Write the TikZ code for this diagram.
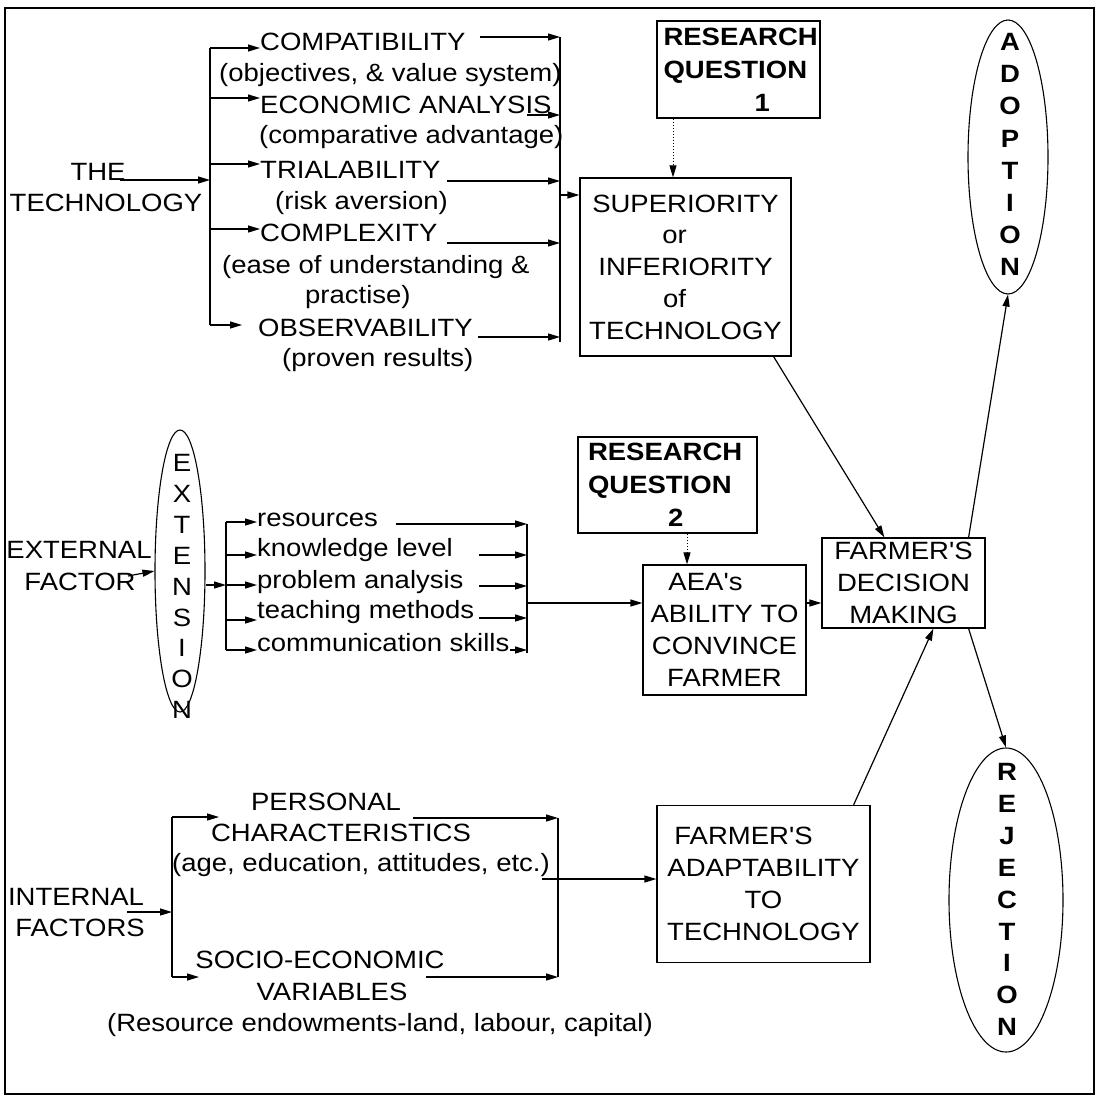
\documentclass[tikz,border=0pt]{standalone}
\usepackage{fontspec}
\setmainfont{Liberation Sans}[Ligatures=TeXOff,FakeStretch=1.1]
\usetikzlibrary{arrows.meta,shapes.geometric,calc}
\begin{document}
\begin{tikzpicture}[x=1pt,y=-1pt,
  every node/.style={font=\fontsize{25}{31.8}\selectfont},
  txt/.style={inner sep=0pt},
  lt/.style={inner sep=0pt,anchor=west},
  box/.style={draw,line width=1.2pt,inner sep=0pt,align=center},
  rq/.style={draw,line width=1.2pt,inner ysep=0pt,align=left,font=\bfseries\fontsize{25}{33}\selectfont},
  oval/.style={draw,ellipse,line width=1.1pt,inner sep=0pt},
  vlet/.style={inner sep=0pt,align=center},
  ln/.style={line width=1.2pt},
  arr/.style={line width=1.2pt,-{Triangle[length=12pt,width=7pt]}},
  dotarr/.style={line width=1pt,dotted,-{Triangle[length=12pt,width=7pt]}}
]
\fill[white] (0,0) rectangle (1097,1100);
\useasboundingbox (0,0) rectangle (1097,1100);
\draw[line width=1.3pt] (5,8) rectangle (1094,1094);

% ---------- top section ----------
\node[txt] (the) at (98,172) {THE};
\node[txt] (tech) at (106,203) {TECHNOLOGY};
\node[lt] (compat) at (260,42) {COMPATIBILITY};
\node[lt] (compatd) at (219,75) {(objectives, \& value system)};
\node[lt] (econ) at (260,105) {ECONOMIC ANALYSIS};
\node[lt] (econd) at (259,137) {(comparative advantage)};
\node[lt] (trial) at (260,170) {TRIALABILITY};
\node[lt] (triald) at (275,203) {(risk aversion)};
\node[lt] (cplx) at (260,233) {COMPLEXITY};
\node[lt] (cplxd) at (222,267) {(ease of understanding \&};
\node[lt] (cplxe) at (305,297) {practise)};
\node[lt] (obs) at (258,328) {OBSERVABILITY};
\node[lt] (obsd) at (282,360) {(proven results)};

\coordinate (theA) at (120,180);
\coordinate (b1) at (210,180);
\coordinate (b1t) at (210,48);
\coordinate (b1e) at (210,98);
\coordinate (b1r) at (210,164);
\coordinate (b1c) at (210,229);
\coordinate (b1b) at (210,325);
\coordinate (obsA) at (242,325);
\draw[ln] (b1t) -- (b1b);
\draw[arr] (theA) -- (b1);
\draw[arr] (b1t) -- (compat.west |- b1t);
\draw[arr] (b1e) -- (econ.west |- b1e);
\draw[arr] (b1r) -- (trial.west |- b1r);
\draw[arr] (b1c) -- (cplx.west |- b1c);
\draw[arr] (b1b) -- (obsA);

\coordinate (r1a0) at (480,37);  \coordinate (r1a) at (560,37);
\coordinate (r1e0) at (527,115); \coordinate (r1e) at (560,115);
\coordinate (r1r0) at (447,181); \coordinate (r1r) at (560,181);
\coordinate (r1c0) at (447,243); \coordinate (r1c) at (560,243);
\coordinate (r1o0) at (478,337); \coordinate (r1o) at (560,337);
\coordinate (r1bot) at (560,342);
\coordinate (r1m) at (560,195);
\draw[ln] (r1a) -- (r1bot);
\draw[arr] (r1a0) -- (r1a);
\draw[arr] (r1e0) -- (r1e);
\draw[arr] (r1r0) -- (r1r);
\draw[arr] (r1c0) -- (r1c);
\draw[arr] (r1o0) -- (r1o);

\node[box,minimum width=211pt,minimum height=178pt] (sup) at (685.5,267)
  {SUPERIORITY\\or\kern22pt\\INFERIORITY\\of\kern22pt\\TECHNOLOGY};
\draw[arr] (r1m) -- (sup.west |- r1m);

\node[rq,minimum width=163pt,minimum height=97pt,text width=150pt,inner xsep=6.5pt] (rq1) at (738.5,69.5)
  {RESEARCH\\QUESTION\\\hspace*{91pt}1};
\coordinate (q1) at (673,0);
\draw[dotarr] (rq1.south -| q1) -- (sup.north -| q1);

\node[oval,minimum width=80pt,minimum height=274pt] (ado) at (1008,157) {};
\node[vlet,font=\bfseries\fontsize{25}{32.1}\selectfont] (adot) at (1010,154.5)
  {A\\D\\O\\P\\T\\I\\O\\N};

% ---------- middle section ----------
\node[txt] (extl1) at (79,550) {EXTERNAL};
\node[txt] (extl2) at (80,582) {FACTOR};
\node[oval,minimum width=50pt,minimum height=282pt] (ext) at (180,571) {};
\node[vlet,font=\fontsize{25}{30.9}\selectfont] (extt) at (182,586.5)
  {E\\X\\T\\E\\N\\S\\I\\O\\N};
\coordinate (efa) at (128,576);
\draw[arr] (efa) -- (ext.west);

\node[lt] (res) at (257,520) {resources};
\node[lt] (know) at (257,550) {knowledge level};
\node[lt] (prob) at (257,582) {problem analysis};
\node[lt] (teach) at (257,612) {teaching methods};
\node[lt] (comm) at (257,643) {communication skills};

\coordinate (b2m) at (226,585);
\coordinate (b2a) at (226,522);
\coordinate (b2b) at (226,555);
\coordinate (b2c) at (226,585);
\coordinate (b2d) at (226,620);
\coordinate (b2e) at (226,650);
\draw[arr] (ext.east |- b2m) -- (b2m);
\draw[ln] (b2a) -- (b2e);
\draw[arr] (b2a) -- (res.west |- b2a);
\draw[arr] (b2b) -- (know.west |- b2b);
\draw[arr] (b2c) -- (prob.west |- b2c);
\draw[arr] (b2d) -- (teach.west |- b2d);
\draw[arr] (b2e) -- (comm.west |- b2e);

\coordinate (r2a0) at (396,524); \coordinate (r2a) at (527,524);
\coordinate (r2b0) at (479,555); \coordinate (r2b) at (527,555);
\coordinate (r2c0) at (479,586); \coordinate (r2c) at (527,586);
\coordinate (r2d0) at (479,618); \coordinate (r2d) at (527,618);
\coordinate (r2e0) at (510,650); \coordinate (r2e) at (527,650);
\coordinate (r2bot) at (527,653);
\coordinate (r2m) at (527,603);
\draw[ln] (r2a) -- (r2bot);
\draw[arr] (r2a0) -- (r2a);
\draw[arr] (r2b0) -- (r2b);
\draw[arr] (r2c0) -- (r2c);
\draw[arr] (r2d0) -- (r2d);
\draw[arr] (r2e0) -- (r2e);

\node[rq,minimum width=179pt,minimum height=96pt,text width=159pt,inner xsep=10pt] (rq2) at (667.5,485)
  {RESEARCH\\QUESTION\\\hspace*{80pt}2};
\node[box,minimum width=163pt,minimum height=130pt] (aea) at (724.5,630)
  {AEA's\kern38pt\\ABILITY TO\\CONVINCE\\FARMER};
\node[box,minimum width=163pt,minimum height=90pt] (dec) at (903.5,583)
  {FARMER'S\\DECISION\\MAKING};
\draw[arr] (r2m) -- (aea.west |- r2m);
\coordinate (q2) at (687,0);
\draw[dotarr] (rq2.south -| q2) -- (aea.north -| q2);
\coordinate (d1) at (0,603);
\draw[arr] (aea.east |- d1) -- (dec.west |- d1);

% ---------- bottom section ----------
\node[txt] (intl1) at (76,897) {INTERNAL};
\node[txt] (intl2) at (80,928) {FACTORS};
\node[txt] (pers) at (326,802) {PERSONAL};
\node[txt] (chars) at (341,833) {CHARACTERISTICS};
\node[txt] (age) at (361,865) {(age, education, attitudes, etc.)};
\node[txt] (socio) at (320,960) {SOCIO-ECONOMIC};
\node[txt] (vari) at (332,992) {VARIABLES};
\node[txt] (reso) at (380,1025) {(Resource endowments-land, labour, capital)};

\coordinate (ifa) at (127,912);
\coordinate (b3m) at (172,912);
\coordinate (b3t) at (172,817);
\coordinate (b3b) at (172,977);
\coordinate (pA) at (219,817);
\coordinate (sA) at (199,977);
\draw[ln] (b3t) -- (b3b);
\draw[arr] (ifa) -- (b3m);
\draw[arr] (b3t) -- (pA);
\draw[arr] (b3b) -- (sA);

\coordinate (r3a0) at (413,818); \coordinate (r3a) at (558,818);
\coordinate (r3b0) at (426,977); \coordinate (r3b) at (558,977);
\coordinate (r3m) at (542,879);
\draw[ln] (r3a) -- (r3b);
\draw[arr] (r3a0) -- (r3a);
\draw[arr] (r3b0) -- (r3b);

\node[box,minimum width=213pt,minimum height=157pt] (adp) at (763.5,884)
  {FARMER'S\kern40pt\\ADAPTABILITY\\TO\\TECHNOLOGY};
\draw[arr] (r3m) -- (adp.west |- r3m);

\node[oval,minimum width=114pt,minimum height=304pt] (rej) at (1006,900) {};
\node[vlet,font=\bfseries\fontsize{25}{31.9}\selectfont] (rejt) at (1007,899.5)
  {R\\E\\J\\E\\C\\T\\I\\O\\N};

% ---------- decision links ----------
\draw[arr] ($(sup.south east)+(-18,0)$) -- ($(dec.north west)+(63,0)$);
\draw[arr] ($(dec.north east)+(-17,0)$) -- (ado.south);
\draw[arr] ($(dec.south east)+(-17,0)$) -- (rej.north);
\draw[arr] ($(adp.north east)+(-17,0)$) -- ($(dec.south west)+(112,0)$);
\end{tikzpicture}
\end{document}
